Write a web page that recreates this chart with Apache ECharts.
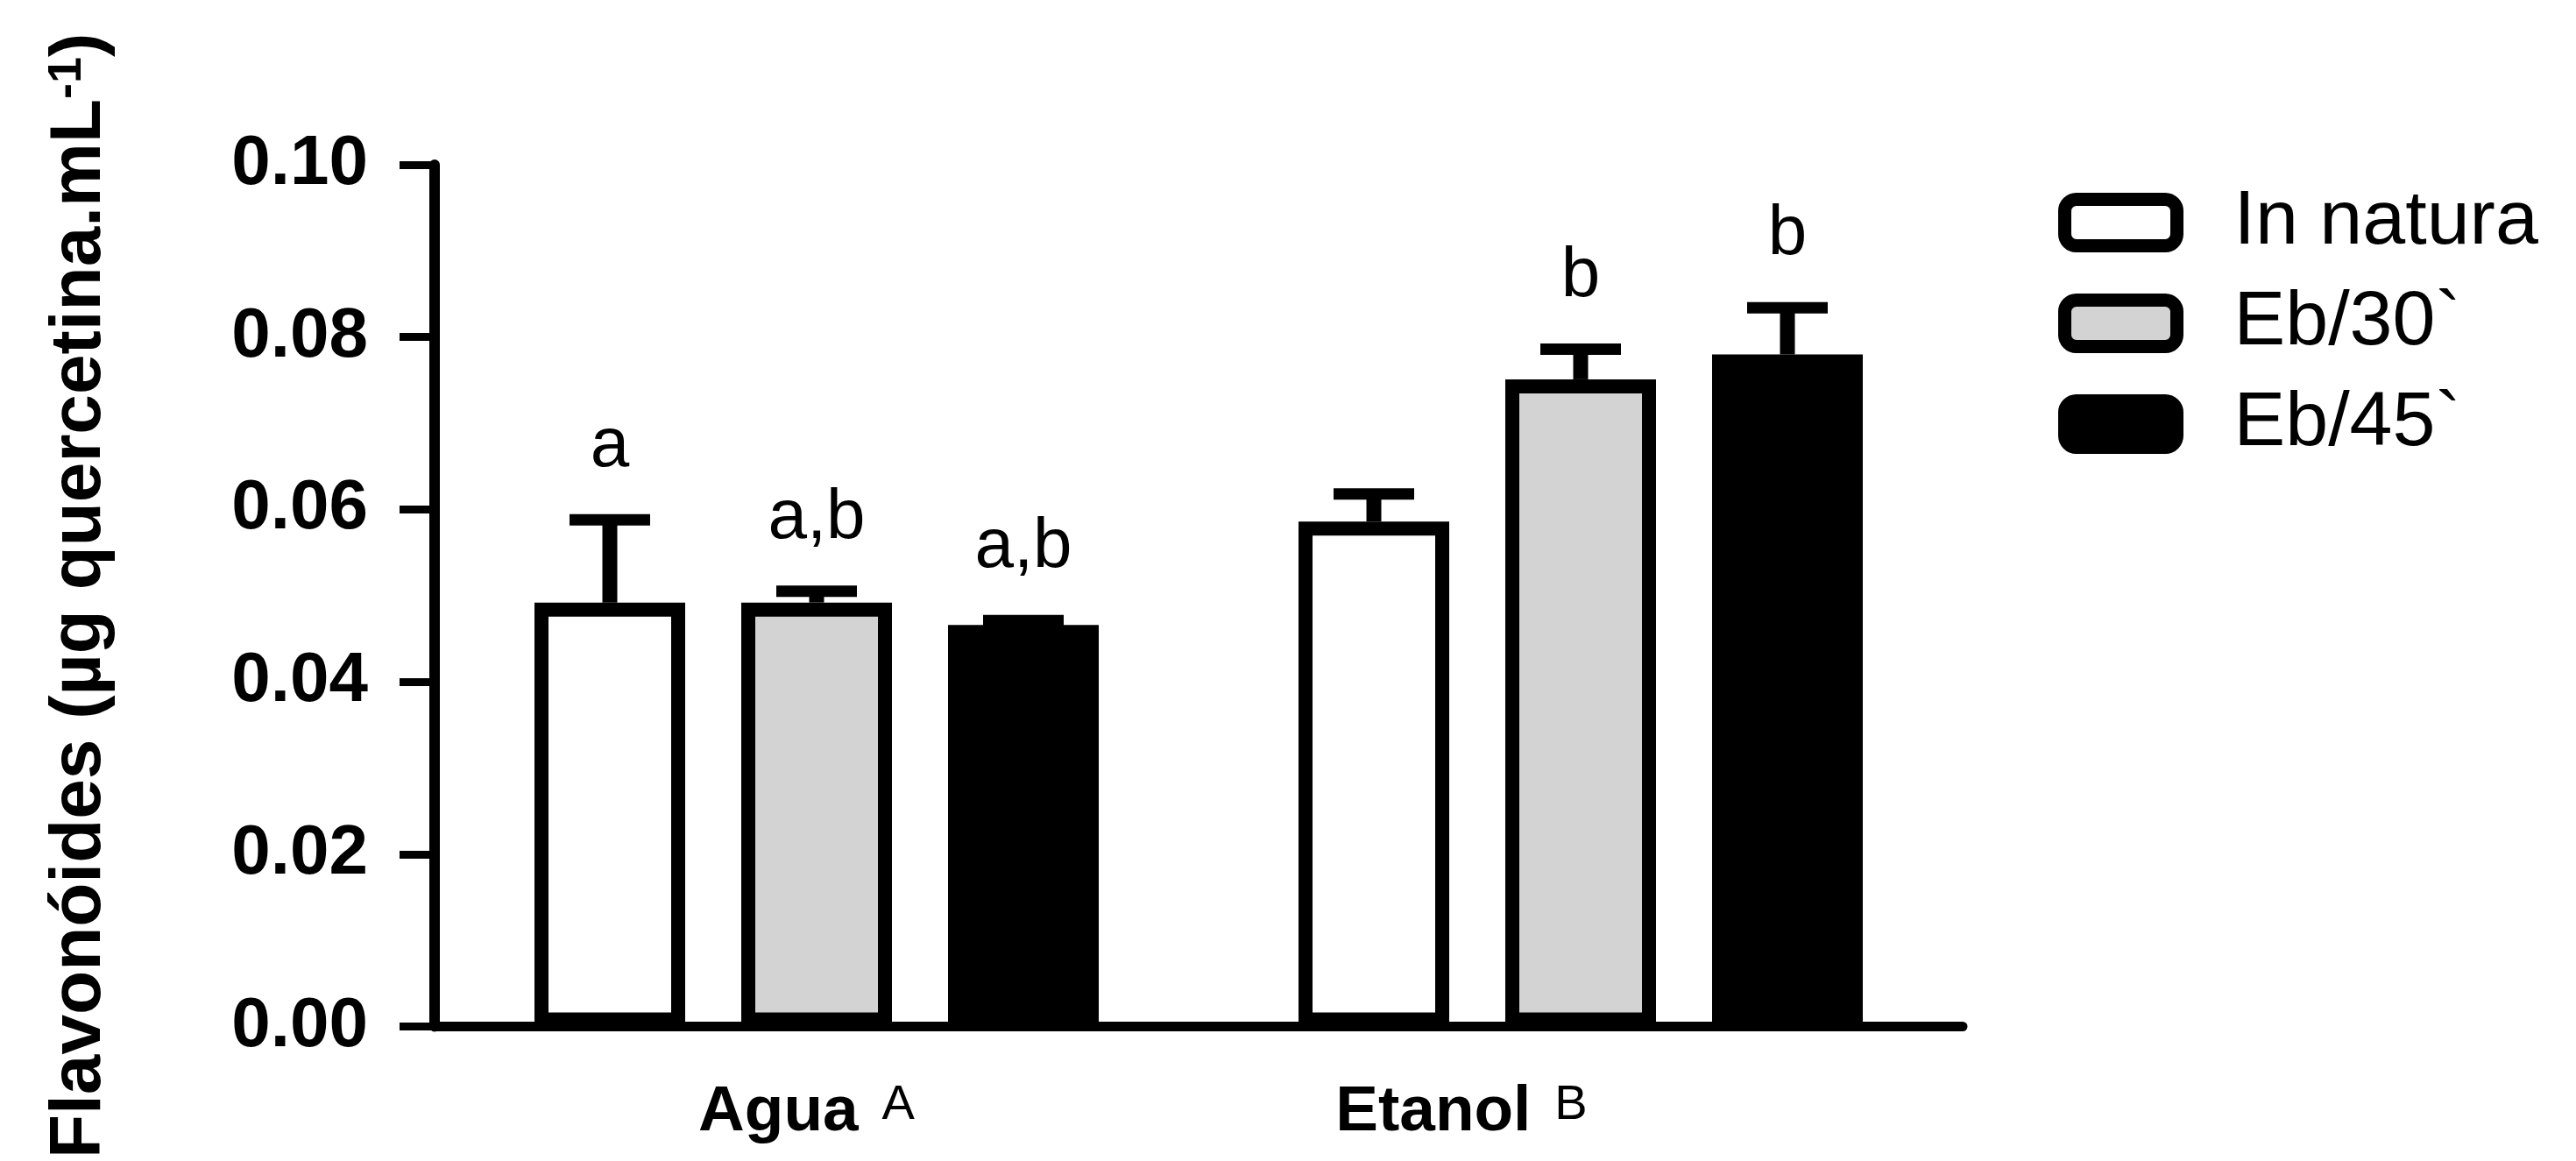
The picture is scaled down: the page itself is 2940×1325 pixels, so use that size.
<!DOCTYPE html>
<html>
<head>
<meta charset="utf-8">
<script src="https://cdn.jsdelivr.net/npm/echarts@6/dist/echarts.min.js"></script>
<style>
html,body{margin:0;padding:0;background:#fff;}
#chart{width:2940px;height:1325px;}
</style>
</head>
<body>
<div id="chart"></div>
<script>
// dados
var categories = ['Agua', 'Etanol'];
var categorySup = ['A', 'B'];
var seriesNames = ['In natura', 'Eb/30`', 'Eb/45`'];
var inNatura = [0.0492, 0.0586];
var eb30 = [0.0492, 0.0751];
var eb45 = [0.0466, 0.0780];
var inNaturaErr = [0.0096, 0.0032];
var eb30Err = [0.0013, 0.0035];
var eb45Err = [0.0005, 0.0054];
var inNaturaLetters = ['a', ''];
var eb30Letters = ['a,b', 'b'];
var eb45Letters = ['a,b', 'b'];
var yTicks = [0, 0.02, 0.04, 0.06, 0.08, 0.10];

var FONT = '"Liberation Sans", Arial, sans-serif';
var barW = 172;
var barStep = 236; // barW + espaco entre barras

var myChart = echarts.init(document.getElementById('chart'));

//barras de erro (so a metade de cima) + letras
function errorSeries(idx, means, errs, letters) {
  return {
    type: 'custom',
    z: 3,
    data: means.map(function (m, i) { return [i, m, m + errs[i]]; }),
    encode: { x: 0, y: [1, 2] },
    renderItem: function (params, api) {
      var i = api.value(0);
      var base = api.coord([i, api.value(1)]);
      var top = api.coord([i, api.value(2)]);
      var x = base[0] + (idx - 1) * barStep;
      var children = [
        { type: 'line', shape: { x1: x, y1: base[1], x2: x, y2: top[1] }, style: { stroke: '#000', lineWidth: 17 } },
        { type: 'line', shape: { x1: x - 46, y1: top[1], x2: x + 46, y2: top[1] }, style: { stroke: '#000', lineWidth: 13 } }
      ];
      if (letters[i]) {
        children.push({
          type: 'text', x: x, y: top[1] - 83,
          style: { text: letters[i], fill: '#000', fontSize: 80, fontFamily: FONT, align: 'center', verticalAlign: 'middle' }
        });
      }
      return { type: 'group', children: children };
    }
  };
}

function barSeries(name, data, fill) {
  return {
    name: name,
    type: 'bar',
    barWidth: barW,
    barGap: ((barStep - barW) / barW * 100) + '%',
    data: data,
    z: 2,
    itemStyle: { color: fill, borderColor: '#000', borderWidth: 16 }
  };
}

var option = {
  animation: false,
  backgroundColor: '#fff',
  grid: { left: 496, right: 700, top: 188, bottom: 141 },
  legend: {
    data: seriesNames,
    orient: 'vertical',
    left: 2349,
    top: 210,
    padding: 0,
    itemGap: 27,
    itemWidth: 128,
    itemHeight: 53,
    icon: 'roundRect',
    itemStyle: { borderWidth: 15, borderColor: '#000' },
    textStyle: { fontSize: 88, fontFamily: FONT, color: '#000', padding: [0, 0, 0, 60] }
  },
  xAxis: {
    type: 'category',
    data: categories,
    axisLine: { lineStyle: { color: '#000', width: 11 } },
    axisTick: { alignWithLabel: true, length: 34, lineStyle: { color: '#000', width: 12 } },
    axisLabel: {
      margin: 62,
      formatter: function (v, i) {
        return '{b|' + v + '}{s|' + categorySup[i] + '}' + (i === 1 ? '{g2|}' : '{g1|}');
      },
      rich: {
        b: { fontSize: 73, fontWeight: 'bold', fontFamily: FONT, color: '#000' },
        s: { fontSize: 56, fontFamily: FONT, color: '#000', verticalAlign: 'top', padding: [0, 0, 0, 27] },
        g1: { width: 23 },
        g2: { width: 272 }
      }
    }
  },
  yAxis: {
    type: 'value',
    min: yTicks[0],
    max: yTicks[yTicks.length - 1],
    interval: yTicks[1] - yTicks[0],
    splitLine: { show: false },
    axisLine: { show: true, lineStyle: { color: '#000', width: 12 } },
    axisTick: { show: true, length: 40, lineStyle: { color: '#000', width: 9 } },
    axisLabel: {
      margin: 76,
      fontSize: 80,
      fontWeight: 'bold',
      fontFamily: FONT,
      color: '#000',
      formatter: function (v) { return v.toFixed(2); }
    },
    name: '{n|Flavonóides (µg quercetina.mL}{sup|-1}{n|)}',
    nameLocation: 'middle',
    nameRotate: 90,
    nameGap: 364,
    nameTextStyle: {
      rich: {
        n: { fontSize: 82, fontWeight: 'bold', fontFamily: FONT, color: '#000' },
        sup: { fontSize: 54, fontWeight: 'bold', fontFamily: FONT, color: '#000', verticalAlign: 'top' }
      }
    }
  },
  series: [
    barSeries(seriesNames[0], inNatura, '#ffffff'),
    barSeries(seriesNames[1], eb30, '#d3d3d3'),
    barSeries(seriesNames[2], eb45, '#000000'),
    errorSeries(0, inNatura, inNaturaErr, inNaturaLetters),
    errorSeries(1, eb30, eb30Err, eb30Letters),
    errorSeries(2, eb45, eb45Err, eb45Letters)
  ]
};

myChart.setOption(option);
</script>
</body>
</html>
